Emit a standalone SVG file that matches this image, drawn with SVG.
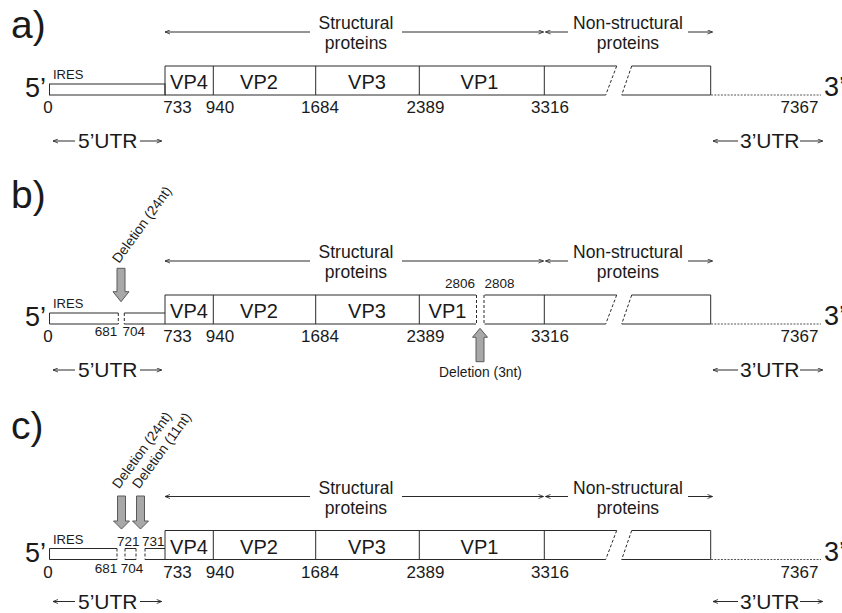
<svg xmlns="http://www.w3.org/2000/svg" xmlns:xlink="http://www.w3.org/1999/xlink" width="842" height="613" viewBox="0 0 842 613">
<style>
text{font-family:"Liberation Sans",Arial,sans-serif;fill:#1a1a1a}
.lab{font-size:39px}
.hd{font-size:17.5px;text-anchor:middle}
.vp{font-size:20px;text-anchor:middle}
.num{font-size:17px;text-anchor:middle}
.sm{font-size:13.5px;text-anchor:middle}
.end{font-size:27px}
.utr{font-size:21px}
.ires{font-size:13px}
.del{font-size:13.8px}
.ln{stroke:#2a2a2a;stroke-width:1;fill:none}
.dsh{stroke:#2a2a2a;stroke-width:1;fill:none;stroke-dasharray:3,2}
.dot{stroke:#555;stroke-width:1;fill:none;stroke-dasharray:2,1.3}
.arr{stroke:#2a2a2a;stroke-width:1;fill:none;marker-end:url(#ah)}
.blk{fill:#a8a8a8;stroke:#5a5a5a;stroke-width:1}
</style>
<defs>
<marker id="ah" viewBox="0 0 6 6" refX="6" refY="3" markerWidth="6" markerHeight="5" markerUnits="userSpaceOnUse" orient="auto">
<path d="M0,0.6 L6,3 L0,5.4" fill="none" stroke="#2a2a2a" stroke-width="1"/>
</marker>
<g id="common">
<text class="hd" x="356" y="29">Structural</text>
<text class="hd" x="356" y="49">proteins</text>
<text class="hd" x="628" y="29">Non-structural</text>
<text class="hd" x="628" y="49">proteins</text>
<text class="end" x="25" y="97">5’</text>
<text class="end" x="824" y="96">3’</text>
<text class="ires" x="53" y="79">IRES</text>
<text class="vp" x="189" y="89">VP4</text>
<text class="vp" x="259" y="89">VP2</text>
<text class="vp" x="367" y="89">VP3</text>
<text class="num" x="48" y="113">0</text>
<text class="num" x="177.5" y="113">733</text>
<text class="num" x="220" y="113">940</text>
<text class="num" x="320" y="113">1684</text>
<text class="num" x="425.5" y="113">2389</text>
<text class="num" x="550" y="113">3316</text>
<text class="num" x="799.5" y="113">7367</text>
<path class="ln" d="M165,66V95M213.3,66V95M315.7,66V95M419.3,66V95M544.3,66V95"/>
<path class="ln" d="M165,66H616.7M165,95H605.7"/>
<path class="dsh" d="M616.7,66L605.7,95M631.7,66L621.7,95"/>
<path class="ln" d="M631.7,66H710.7V95H621.7"/>
<path class="dot" d="M711,95H821"/>
<g class="connectors">
<line class="arr" x1="310" y1="32" x2="165" y2="32"/>
<line class="arr" x1="402" y1="32" x2="543.5" y2="32"/>
<line class="arr" x1="568" y1="32" x2="545.5" y2="32"/>
<line class="arr" x1="688" y1="32" x2="712.5" y2="32"/>
</g>
</g>
</defs>

<text class="lab" x="11" y="38">a)</text>
<text class="lab" x="11" y="208">b)</text>
<text class="lab" x="11" y="439">c)</text>

<g id="panel-a">
<use xlink:href="#common"/>
<rect class="ln" x="49.5" y="84" width="115.5" height="11"/>
<text class="vp" x="479.5" y="89">VP1</text>
<g id="utr-a">
<line class="arr" x1="75" y1="141" x2="53" y2="141"/>
<text class="utr" x="78" y="148">5’UTR</text>
<line class="arr" x1="140" y1="141" x2="161.7" y2="141"/>
<line class="arr" x1="738" y1="141" x2="713" y2="141"/>
<text class="utr" x="740" y="148">3’UTR</text>
<line class="arr" x1="800" y1="141" x2="822.7" y2="141"/>
</g>
</g>

<g id="panel-b" transform="translate(0,229)">
<use xlink:href="#common"/>
<rect x="476" y="64" width="8.5" height="33" fill="#fff"/>
<path class="ln" d="M118.3,84H49.5V95H118.3"/>
<path class="dsh" d="M118.3,84V95M124.3,84V95"/>
<path class="ln" d="M124.3,84H165M124.3,95H165"/>
<path class="dsh" d="M476.5,66V95M484,66V95"/>
<text class="vp" x="447.5" y="89">VP1</text>
<text class="sm" x="106" y="107">681</text>
<text class="sm" x="133.8" y="107">704</text>
<text class="sm" x="460" y="59.3">2806</text>
<text class="sm" x="499.5" y="59.3">2808</text>
<g id="del-b1">
<path class="blk" d="M117,39.3H125V62.7H129L121,72.7L113,62.7H117Z"/>
<text class="del" transform="translate(119,35) rotate(-54)">Deletion (24nt)</text>
</g>
<g id="del-b2">
<path class="blk" d="M476,132.7H484V108.3H487.5L480,99.3L472.5,108.3H476Z"/>
<text class="del" x="480.5" y="147.7" text-anchor="middle">Deletion (3nt)</text>
</g>
<g id="utr-b">
<line class="arr" x1="75" y1="141" x2="53" y2="141"/>
<text class="utr" x="78" y="148">5’UTR</text>
<line class="arr" x1="140" y1="141" x2="161.7" y2="141"/>
<line class="arr" x1="738" y1="141" x2="713" y2="141"/>
<text class="utr" x="740" y="148">3’UTR</text>
<line class="arr" x1="800" y1="141" x2="822.7" y2="141"/>
</g>
</g>

<g id="panel-c" transform="translate(0,464.5)">
<use xlink:href="#common"/>
<text class="vp" x="479.5" y="89">VP1</text>
<path class="ln" d="M117,84H49.5V95H117"/>
<path class="dsh" d="M117,84V95M125,84V95M136,84V95M145,84V95"/>
<path class="ln" d="M125,84H136M125,95H136M145,84H165M145,95H165"/>
<text class="sm" x="128.3" y="81.5">721</text>
<text class="sm" x="153.3" y="81.5">731</text>
<text class="sm" x="106" y="108.2">681</text>
<text class="sm" x="132" y="108.2">704</text>
<g id="del-c1">
<path class="blk" d="M117.5,31.5H125.5V56.5H129.5L121.5,64.5L113.5,56.5H117.5Z"/>
<text class="del" transform="translate(119,25) rotate(-54)">Deletion (24nt)</text>
</g>
<g id="del-c2">
<path class="blk" d="M136.5,31.5H144.5V56.5H148.5L140.5,64.5L132.5,56.5H136.5Z"/>
<text class="del" transform="translate(139,25) rotate(-54)">Deletion (11nt)</text>
</g>
<g id="utr-c">
<line class="arr" x1="75" y1="137" x2="53" y2="137"/>
<text class="utr" x="78" y="144">5’UTR</text>
<line class="arr" x1="140" y1="137" x2="161.7" y2="137"/>
<line class="arr" x1="738" y1="137" x2="713" y2="137"/>
<text class="utr" x="740" y="144">3’UTR</text>
<line class="arr" x1="800" y1="137" x2="822.7" y2="137"/>
</g>
</g>
</svg>
